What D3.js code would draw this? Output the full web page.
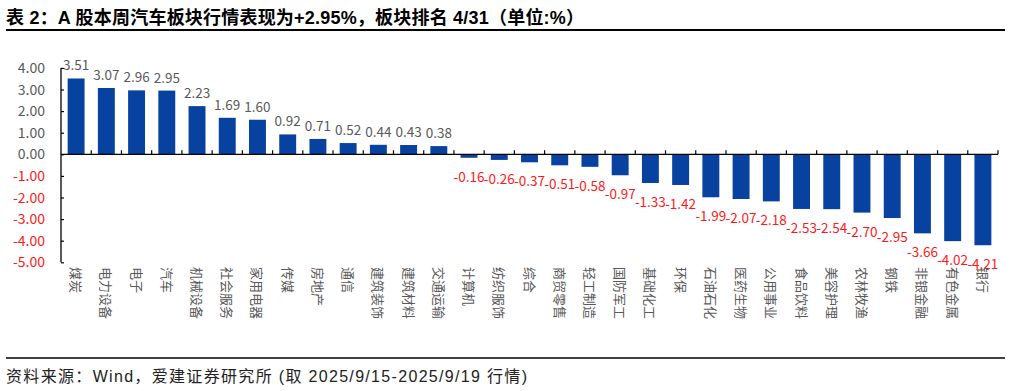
<!DOCTYPE html>
<html><head><meta charset="utf-8">
<script src="https://cdn.jsdelivr.net/npm/d3@7"></script>
<style>body{margin:0;background:#fff;} svg{display:block;font-family:"Noto Sans CJK SC","Noto Sans",sans-serif;}</style>
</head><body><svg id="c" width="1011" height="391"></svg>
<script>
const categories = ["煤炭","电力设备","电子","汽车","机械设备","社会服务","家用电器","传媒","房地产","通信","建筑装饰","建筑材料","交通运输","计算机","纺织服饰","综合","商贸零售","轻工制造","国防军工","基础化工","环保","石油石化","医药生物","公用事业","食品饮料","美容护理","农林牧渔","钢铁","非银金融","有色金属","银行"];
const values = [3.51,3.07,2.96,2.95,2.23,1.69,1.60,0.92,0.71,0.52,0.44,0.43,0.38,-0.16,-0.26,-0.37,-0.51,-0.58,-0.97,-1.33,-1.42,-1.99,-2.07,-2.18,-2.53,-2.54,-2.70,-2.95,-3.66,-4.02,-4.21];
const yTicks = [4,3,2,1,0,-1,-2,-3,-4,-5];
const title = "表 2：A 股本周汽车板块行情表现为+2.95%，板块排名 4/31（单位:%）";
const source = "资料来源：Wind，爱建证券研究所 (取 2025/9/15-2025/9/19 行情)";

const svg = d3.select("#c");
const gray = "#595959", red = "#FF1A1A", blue = "#0842A0";

svg.append("text").attr("x",6).attr("y",24).attr("font-size",18).attr("font-weight","bold").attr("fill","#000")
  .attr("font-family","'Liberation Sans','Noto Sans CJK SC',sans-serif")
  .attr("textLength",578).attr("lengthAdjust","spacing").text(title);
svg.append("line").attr("x1",6).attr("x2",1005).attr("y1",30).attr("y2",30).attr("stroke","#000").attr("stroke-width",2);
svg.append("line").attr("x1",6).attr("x2",1005).attr("y1",358).attr("y2",358).attr("stroke","#000").attr("stroke-width",1.5);
svg.append("text").attr("x",6).attr("y",382).attr("font-size",16).attr("fill","#222")
  .attr("font-family","'Liberation Sans','Noto Sans CJK SC',sans-serif")
  .attr("textLength",521).attr("lengthAdjust","spacing").text(source);

const x = d3.scaleBand().domain(categories).range([61,998]).paddingInner(0.44).paddingOuter(0.22);
const y = d3.scaleLinear().domain([-5,4]).range([262.3,67.9]);

// bars
svg.append("g").selectAll("rect").data(values).join("rect")
  .attr("x",(d,i)=>x(categories[i]))
  .attr("width",x.bandwidth())
  .attr("y",d=>y(Math.max(0,d)))
  .attr("height",d=>Math.abs(y(d)-y(0)))
  .attr("fill",blue);

// y axis
const ya = svg.append("g").attr("transform","translate(61,0)")
  .call(d3.axisRight(y).tickValues(yTicks).tickSize(3).tickFormat(""));
ya.select(".domain").attr("stroke","#000").attr("stroke-width",1.3).attr("d","M0,"+y(4)+"V"+y(-5));
ya.selectAll(".tick line").attr("stroke","#000").attr("stroke-width",1.2);
svg.append("g").selectAll("text").data(yTicks).join("text")
  .attr("x",45).attr("y",d=>y(d)+5).attr("text-anchor","end").attr("font-size",14)
  .attr("fill",d=>d<0?red:gray).text(d=>d.toFixed(2));

// x axis at zero
const bounds = d3.range(categories.length+1).map(i=>61+i*(937/categories.length));
const xa = svg.append("g");
xa.append("line").attr("x1",61).attr("x2",998).attr("y1",y(0)).attr("y2",y(0)).attr("stroke","#000").attr("stroke-width",1.3);
xa.selectAll("line.t").data(bounds.slice(1)).join("line").attr("class","t")
  .attr("x1",d=>d).attr("x2",d=>d).attr("y1",y(0)).attr("y2",y(0)-4).attr("stroke","#000").attr("stroke-width",1.2);

// value labels
svg.append("g").selectAll("text").data(values).join("text")
  .attr("x",(d,i)=>x(categories[i])+x.bandwidth()/2)
  .attr("y",d=>d>=0? y(d)-8 : y(d)+24)
  .attr("text-anchor","middle").attr("font-size",13.5)
  .attr("fill",d=>d<0?red:gray)
  .text(d=>d.toFixed(2));

// category labels (rotated)
svg.append("g").selectAll("text").data(categories).join("text")
  .attr("transform",d=>`translate(${x(d)+x.bandwidth()/2-5},267) rotate(90)`)
  .attr("text-anchor","start").attr("font-size",13).attr("fill",gray)
  .text(d=>d);
</script></body></html>
